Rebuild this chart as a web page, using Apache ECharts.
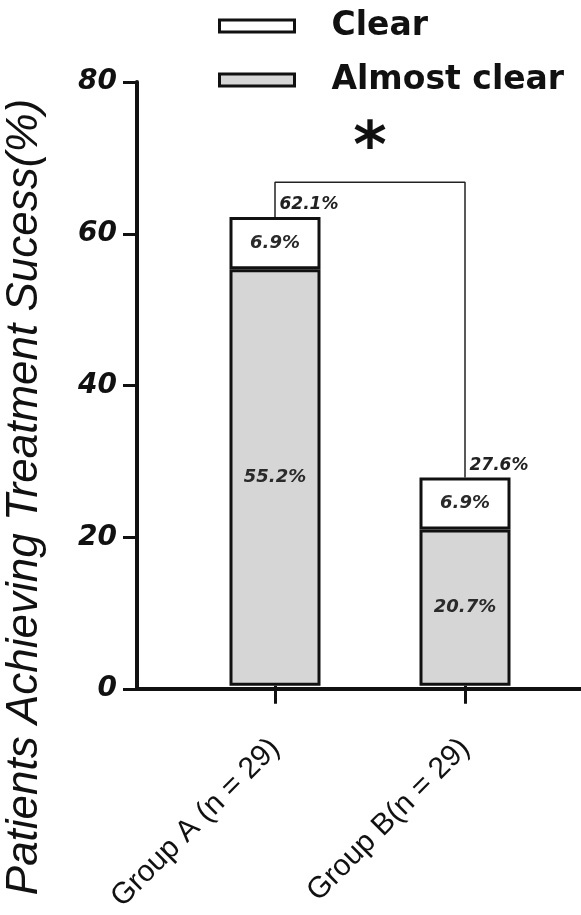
<!DOCTYPE html>
<html>
<head>
<meta charset="utf-8">
<script src="https://cdn.jsdelivr.net/npm/echarts@6/dist/echarts.min.js"></script>
<style>
  html, body { margin: 0; padding: 0; background: #fff; }
  #main { width: 581px; height: 915px; }
</style>
</head>
<body>
<div id="main"></div>
<script>
var groups = ['Group A (n = 29)', 'Group B(n = 29)'];
var almostClear = [55.2, 20.7];
var clear = [6.9, 6.9];
var totals = [62.1, 27.6];
var bracketTop = 66.7;
var yTicks = [0, 20, 40, 60, 80];

var labelFont = {
    fontFamily: 'DejaVu Sans',
    fontStyle: 'italic',
    fontWeight: 'bold',
    fontSize: 18,
    color: '#2a2a2a'
};

var chart = echarts.init(document.getElementById('main'));
var option = {
    animation: false,
    backgroundColor: '#fff',
    legend: {
        orient: 'vertical',
        left: 213,
        top: 4,
        itemWidth: 75,
        itemHeight: 12,
        itemGap: 20,
        icon: 'rect',
        data: ['Clear', 'Almost clear'],
        itemStyle: { borderWidth: 3, borderColor: '#111' },
        textStyle: {
            fontFamily: 'DejaVu Sans',
            fontWeight: 'bold',
            fontSize: 33,
            lineHeight: 34,
            color: '#111',
            padding: [0, 0, 0, 32]
        }
    },
    grid: [
        { left: 137, right: 0, top: 82, bottom: 226 },
        { left: 180, right: 21, top: 82, bottom: 226 }
    ],
    xAxis: [
        {
            gridIndex: 0, type: 'category', data: [''],
            axisLine: { lineStyle: { color: '#111', width: 4 } },
            axisTick: { show: false }, axisLabel: { show: false }
        },
        {
            gridIndex: 1, type: 'category', data: groups,
            axisLine: { show: false },
            axisTick: { show: true, alignWithLabel: true, length: 18, lineStyle: { color: '#111', width: 3 } },
            axisLabel: {
                rotate: 45, margin: 58, fontFamily: 'Liberation Sans', fontSize: 30, color: '#111'
            }
        }
    ],
    yAxis: [
        {
            gridIndex: 0, type: 'value', min: yTicks[0], max: yTicks[yTicks.length - 1], interval: 20,
            axisLine: { show: true, lineStyle: { color: '#111', width: 4 } },
            axisTick: { show: true, length: 14, lineStyle: { color: '#111', width: 3 } },
            splitLine: { show: false },
            axisLabel: {
                margin: 20, fontFamily: 'DejaVu Sans', fontStyle: 'italic', fontWeight: 'bold',
                fontSize: 28, color: '#111'
            }
        },
        { gridIndex: 1, type: 'value', min: 0, max: 80, show: false }
    ],
    series: [
        {
            name: 'Almost clear', type: 'bar', stack: 'total', xAxisIndex: 1, yAxisIndex: 1,
            barWidth: 91, data: almostClear,
            itemStyle: { color: '#d6d6d6', borderColor: '#111', borderWidth: 3 },
            label: Object.assign({ show: true, position: 'inside', formatter: '{c}%' }, labelFont)
        },
        {
            name: 'Clear', type: 'bar', stack: 'total', xAxisIndex: 1, yAxisIndex: 1,
            barWidth: 91, data: clear,
            itemStyle: { color: '#ffffff', borderColor: '#111', borderWidth: 3 },
            label: Object.assign({ show: true, position: 'inside', formatter: '{c}%' }, labelFont)
        },
        {
            // zero-height cap on each stack, only used to carry the total label
            name: 'Total', type: 'bar', stack: 'total', xAxisIndex: 1, yAxisIndex: 1,
            barWidth: 91, data: [0, 0],
            itemStyle: { color: 'rgba(0,0,0,0)', borderWidth: 0 },
            label: Object.assign({
                show: true, position: [50, -12], align: 'left', verticalAlign: 'middle',
                formatter: function (p) { return totals[p.dataIndex] + '%'; }
            }, labelFont, { fontSize: 17, color: '#222' })
        },
        {
            type: 'line', xAxisIndex: 1, yAxisIndex: 1, symbol: 'none', z: 1,
            lineStyle: { color: '#222', width: 1.5 },
            data: [[groups[0], totals[0]], [groups[0], bracketTop], [groups[1], bracketTop], [groups[1], totals[1]]]
        }
    ],
    graphic: [
        {
            type: 'text', x: 25, y: 497, rotation: Math.PI / 2,
            style: {
                text: 'Patients Achieving Treatment Sucess(%)',
                fontFamily: 'Liberation Sans', fontStyle: 'italic', fontSize: 44,
                fill: '#111', textAlign: 'center', textVerticalAlign: 'middle'
            }
        },
        {
            type: 'text', x: 370, y: 150,
            style: {
                text: '*', fontFamily: 'DejaVu Sans', fontWeight: 'bold', fontSize: 64,
                fill: '#111', textAlign: 'center', textVerticalAlign: 'middle'
            }
        }
    ]
};
chart.setOption(option);
</script>
</body>
</html>
